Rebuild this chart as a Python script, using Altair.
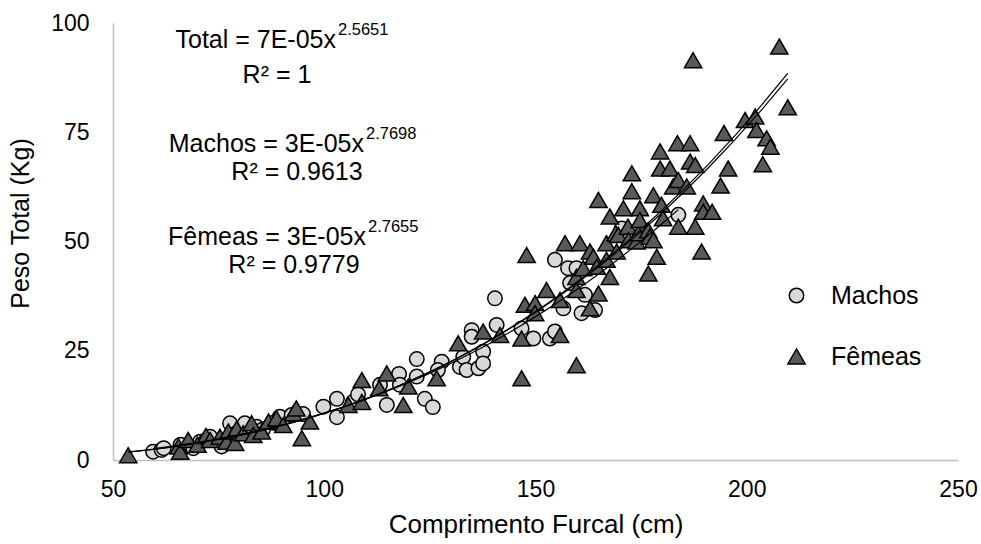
import altair as alt
import pandas as pd

# ---- data ----
machos_cf = [59.5, 61.5, 62.0, 66.0, 69.0, 70.6, 72.0, 73.0, 75.7, 77.7, 79.0, 81.2, 84.0, 85.5,
             88.0, 89.5, 92.3, 95.0, 99.8, 103.0, 103.0, 106.8, 108.0, 113.2, 114.8, 117.7, 117.9,
             121.9, 121.9, 123.8, 125.7, 127.8, 126.9, 132.1, 132.9, 133.7, 134.9, 134.9, 136.5,
             137.6, 137.6, 140.4, 140.8, 146.7, 149.5, 153.4, 154.6, 154.6, 156.6, 157.7, 158.2,
             159.7, 160.9, 161.7, 164.1, 170.4, 183.8]
machos_peso = [1.9, 2.3, 2.7, 3.5, 2.7, 4.2, 4.5, 5.3, 3.1, 8.4, 6.0, 8.4, 7.6, 7.0,
               8.5, 9.9, 10.3, 10.5, 12.2, 14.0, 9.8, 13.3, 15.0, 17.2, 12.6, 19.7, 17.2,
               23.1, 19.1, 14.0, 12.1, 22.5, 20.6, 21.3, 23.6, 20.6, 29.7, 28.2, 21.0,
               24.8, 22.1, 37.0, 30.9, 30.1, 27.8, 27.8, 29.4, 45.8, 34.7, 43.9, 40.5,
               43.9, 33.6, 37.8, 34.3, 53.0, 56.1]

femeas_cf = [53.6, 65.5, 65.9, 67.8, 70.0, 72.0, 73.0, 75.3, 76.9, 77.3, 78.9, 79.3, 80.8, 82.8,
             83.2, 85.2, 86.8, 88.7, 90.3, 92.7, 93.4, 94.7, 96.6, 105.7, 108.9, 108.9, 113.0,
             114.8, 118.7, 119.9, 126.6, 131.7, 137.6, 141.6, 146.7, 146.7, 147.5, 147.9, 149.9,
             149.9, 152.6, 155.8, 155.8, 157.0, 159.7, 159.7, 159.7, 160.5, 161.3, 162.9, 162.9,
             163.7, 164.5, 164.9, 164.9, 166.8, 166.8, 167.6, 167.6, 169.0, 169.2, 169.6, 170.8,
             171.9, 172.0, 172.8, 172.8, 173.9, 174.3, 174.7, 174.7, 176.7, 176.7, 177.1, 177.9,
             177.9, 178.7, 179.5, 179.5, 179.8, 180.2, 181.8, 182.6, 183.6, 183.8, 183.8, 185.8,
             186.6, 186.6, 187.3, 187.8, 187.8, 189.3, 189.7, 189.7, 191.8, 193.8, 194.6, 195.6,
             199.6, 202.0, 202.3, 203.8, 204.7, 205.6, 207.7, 209.7]
femeas_peso = [1.1, 3.1, 1.9, 4.6, 3.5, 5.5, 4.6, 5.3, 4.2, 6.5, 3.9, 7.2, 6.1, 8.4,
               5.7, 6.5, 8.8, 9.5, 8.0, 10.7, 11.8, 5.0, 8.8, 12.6, 18.3, 13.3, 16.4,
               19.8, 12.6, 16.8, 18.7, 26.7, 29.4, 28.6, 27.8, 18.7, 35.5, 46.9, 35.9,
               33.6, 38.9, 36.6, 28.6, 49.6, 38.9, 41.9, 21.7, 49.6, 43.9, 47.7, 34.7,
               46.5, 44.2, 38.1, 59.5, 49.6, 45.8, 41.9, 55.7, 51.9, 47.7, 51.5, 57.6,
               53.4, 50.3, 65.6, 61.5, 50.0, 51.9, 57.6, 54.9, 42.7, 52.6, 51.1, 60.6,
               50.3, 46.5, 70.6, 66.7, 58.4, 55.3, 66.7, 62.6, 72.5, 64.1, 53.4, 62.6,
               72.5, 68.3, 91.5, 67.5, 53.4, 47.7, 58.7, 56.8, 56.8, 62.8, 74.8, 66.7,
               77.8, 78.6, 75.5, 67.7, 73.6, 71.7, 94.6, 80.7]

series = ["Machos", "Fêmeas"]
x_ticks = [50, 100, 150, 200, 250]
y_ticks = [0, 25, 50, 75, 100]

df = pd.concat([
    pd.DataFrame({"cf": machos_cf, "peso": machos_peso, "sexo": "Machos"}),
    pd.DataFrame({"cf": femeas_cf, "peso": femeas_peso, "sexo": "Fêmeas"}),
], ignore_index=True)

FONT = "Liberation Sans"

x_enc = alt.X("cf:Q", scale=alt.Scale(domain=[50, 250], nice=False, zero=False),
              axis=alt.Axis(values=x_ticks, title="Comprimento Furcal (cm)", grid=False, ticks=False,
                            domainColor="#BFBFBF", domainWidth=1.5, labelFontSize=23, titleFontSize=26,
                            labelFont=FONT, titleFont=FONT, labelColor="black", titleColor="black",
                            titleFontWeight="normal", labelPadding=18, titlePadding=10,
                            labelFlush=False, labelOverlap=False))
y_enc = alt.Y("peso:Q", scale=alt.Scale(domain=[0, 100], nice=False),
              axis=alt.Axis(values=y_ticks, title="Peso Total (Kg)", grid=False, ticks=False,
                            domainColor="#BFBFBF", domainWidth=1.5, labelFontSize=23, titleFontSize=25,
                            labelFont=FONT, titleFont=FONT, labelColor="black", titleColor="black",
                            titleFontWeight="normal", labelPadding=24, titlePadding=17,
                            titleY=200, labelFlush=False, labelOverlap=False))

base = alt.Chart(df)

points = base.mark_point(filled=True, strokeWidth=1.5, opacity=1, fillOpacity=1).encode(
    x=x_enc, y=y_enc,
    shape=alt.Shape("sexo:N", title=None,
                    scale=alt.Scale(domain=series, range=["circle", "triangle-up"])),
    fill=alt.Fill("sexo:N", title=None,
                  scale=alt.Scale(domain=series, range=["#D9D9D9", "#595959"])),
    stroke=alt.Stroke("sexo:N", title=None,
                      scale=alt.Scale(domain=series, range=["#000000", "#000000"])),
    size=alt.Size("sexo:N", title=None,
                  scale=alt.Scale(domain=series, range=[210, 300])),
)

fit_sex = base.transform_regression("cf", "peso", method="pow", groupby=["sexo"]).mark_line(
    color="black", strokeWidth=1.2).encode(x="cf:Q", y="peso:Q", detail="sexo:N")
fit_total = base.transform_regression("cf", "peso", method="pow").mark_line(
    color="black", strokeWidth=1.2).encode(x="cf:Q", y="peso:Q")

# equation annotations (pixel layout inside the plot area)
eq_main = ["Total = 7E-05x", "Machos = 3E-05x", "Fêmeas = 3E-05x"]
eq_sup = ["2.5651", "2.7698", "2.7655"]
eq_r2 = ["R² = 1", "R² = 0.9613", "R² = 0.9779"]
main_x = [223, 251, 253]
main_y = [25, 129, 222]
r2_x = [164, 184, 181]
r2_y = [60, 157, 250]

ann_main = pd.DataFrame({"t": eq_main, "px": main_x, "py": main_y})
ann_sup = pd.DataFrame({"t": eq_sup, "px": [v + 2 for v in main_x], "py": [v - 13 for v in main_y]})
ann_r2 = pd.DataFrame({"t": eq_r2, "px": r2_x, "py": r2_y})

t_main = alt.Chart(ann_main).mark_text(align="right", baseline="alphabetic", fontSize=25, font=FONT,
                                       color="black").encode(
    text="t:N", x=alt.X("px:Q", scale=None), y=alt.Y("py:Q", scale=None))
t_sup = alt.Chart(ann_sup).mark_text(align="left", baseline="alphabetic", fontSize=16.5, font=FONT,
                                     color="black").encode(
    text="t:N", x=alt.X("px:Q", scale=None), y=alt.Y("py:Q", scale=None))
t_r2 = alt.Chart(ann_r2).mark_text(align="center", baseline="alphabetic", fontSize=25, font=FONT,
                                   color="black").encode(
    text="t:N", x=alt.X("px:Q", scale=None), y=alt.Y("py:Q", scale=None))

chart = alt.layer(points, fit_sex, fit_total, t_main, t_sup, t_r2).properties(
    width=845, height=437,
    padding={"left": 113, "top": 23, "right": 23, "bottom": 84},
    autosize=alt.AutoSizeParams(type="none"),
    background="white",
).configure_view(stroke=None).configure_legend(
    orient="none", legendX=671, legendY=260, labelFontSize=25, labelFont=FONT, labelColor="black",
    symbolStrokeWidth=1.5, rowPadding=35, labelOffset=22, symbolOpacity=1,
)

chart.save("out.html", embed_options={"renderer": "svg", "actions": False})
